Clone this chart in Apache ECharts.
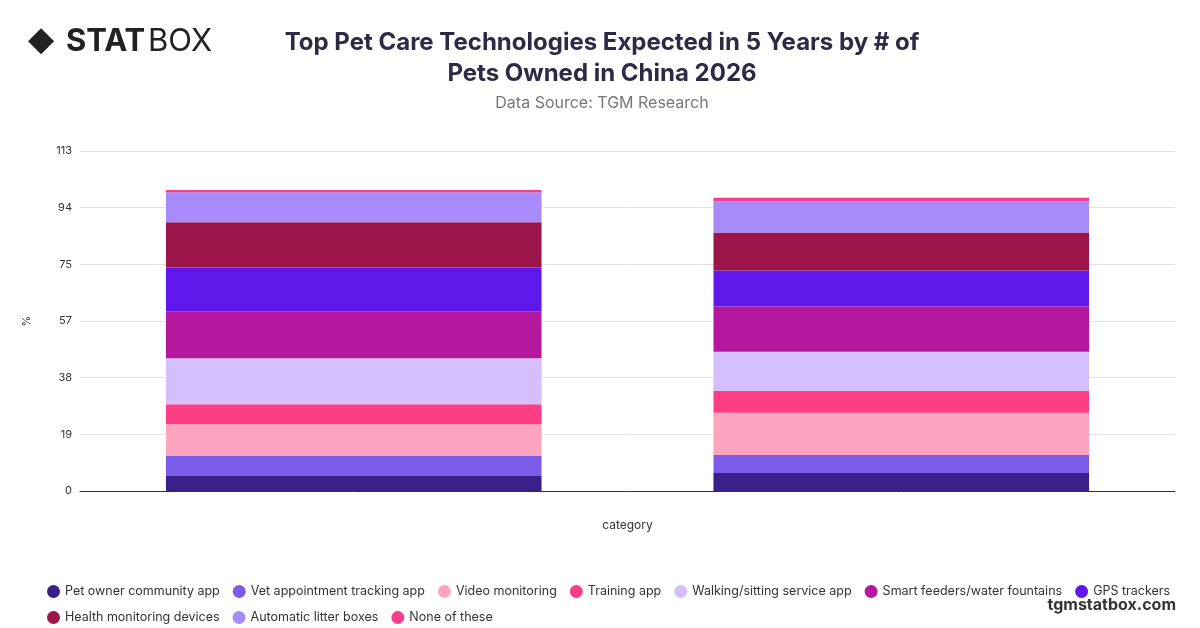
<!DOCTYPE html>
<html><head><meta charset="utf-8">
<script src="https://cdn.jsdelivr.net/npm/echarts@6/dist/echarts.min.js"></script>
<style>html,body{margin:0;padding:0;background:#fff}#c{width:1200px;height:628px}</style>
</head><body><div id="c"></div>
<script>
const categories = ['1', '2+'];
const seriesNames = ['Pet owner community app','Vet appointment tracking app','Video monitoring','Training app','Walking/sitting service app','Smart feeders/water fountains','GPS trackers','Health monitoring devices','Automatic litter boxes','None of these'];
const seriesValues = [
  [5.0, 6.0],
  [6.6, 6.0],
  [10.6, 14.0],
  [6.6, 7.3],
  [15.3, 13.0],
  [15.6, 15.0],
  [14.6, 12.0],
  [15.0, 12.6],
  [10.0, 10.3],
  [0.7, 1.3]
];
const colors = ['#3a1e8a','#7b5ce8','#fda4c0','#ff3d85','#d4bffc','#b5179e','#5f17ea','#9b1548','#a78bfa','#f43f8e'];
const chart = echarts.init(document.getElementById('c'));
chart.setOption({
  animation:false,
  title:{text:'Top Pet Care Technologies Expected in 5 Years by # of\nPets Owned in China 2026',left:597,top:22,textAlign:'center',
    textStyle:{fontFamily:'Inter',fontSize:24,fontWeight:'bold',color:'#2d2a45',lineHeight:31},
    subtext:'Data Source: TGM Research',subtextStyle:{fontFamily:'Inter',fontSize:16,color:'#777'},itemGap:6},
  graphic:[
    {type:'text',left:28,top:24,style:{text:'◆',font:'bold 34px DejaVu Sans',fill:'#222'}},
    {type:'text',left:66,top:26,style:{text:'STAT',font:'bold 31px Inter',fill:'#222'}},
    {type:'text',left:148,top:26,style:{text:'BOX',font:'31px Inter',fill:'#222'}},
    {type:'text',right:24,top:597,style:{text:'tgmstatbox.com',font:'bold 16px Inter',fill:'#333'}}
  ],
  grid:{left:80,right:25,top:151,bottom:137},
  legend:{top:580,left:42,width:1150,itemGap:13,icon:'circle',itemWidth:13,itemHeight:13,
    textStyle:{fontFamily:'Inter',fontSize:12.5,color:'#333'},data:seriesNames},
  xAxis:{type:'category',data:categories,name:'category',nameLocation:'middle',nameGap:28,
    nameTextStyle:{fontFamily:'Inter',fontSize:12,color:'#333'},
    axisLabel:{show:false},axisTick:{show:false},axisLine:{lineStyle:{color:'#333'}}},
  yAxis:{type:'value',min:0,max:113,interval:113/6,name:'%',nameLocation:'middle',nameGap:48,
    nameTextStyle:{fontFamily:'Inter',fontSize:11,color:'#333'},
    axisLabel:{fontFamily:'Inter',fontSize:11,color:'#333',formatter:v=>Math.round(v)},
    splitLine:{lineStyle:{color:'#e3e3e3'}}},
  series:seriesNames.map((n,i)=>({name:n,type:'bar',stack:'a',barWidth:'68.6%',data:seriesValues[i],itemStyle:{color:colors[i]}}))
});
</script></body></html>
